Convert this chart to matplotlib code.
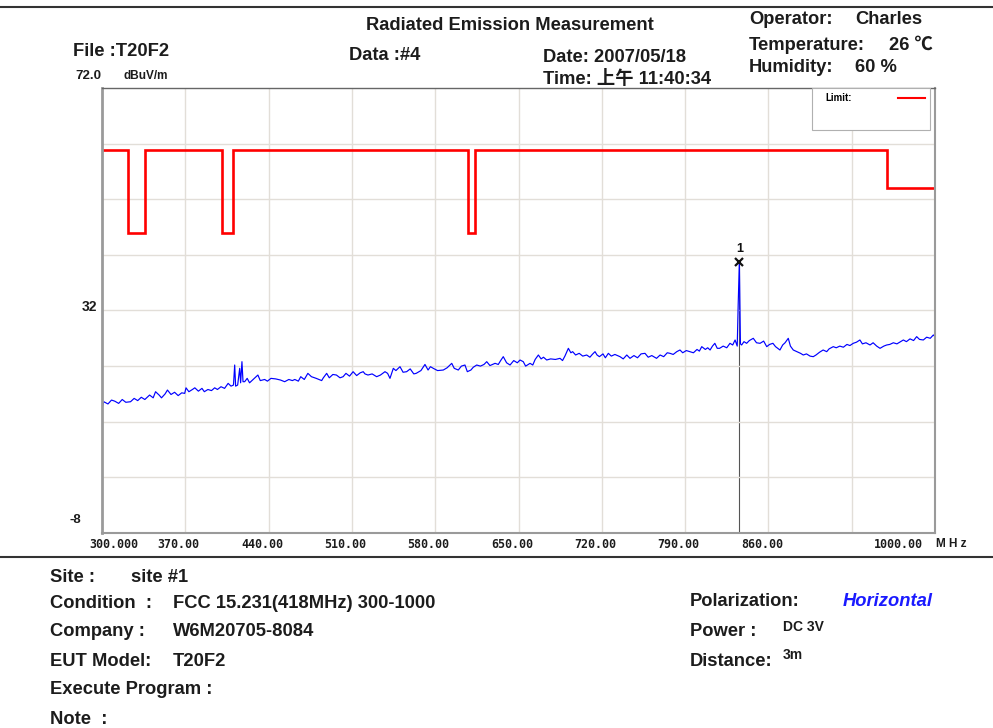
import matplotlib
matplotlib.use('Agg')
from matplotlib import pyplot as plt
from matplotlib import transforms
from matplotlib.lines import Line2D
from matplotlib.patches import Rectangle

plt.rcParams['font.family'] = ['Liberation Sans', 'Noto Sans CJK SC', 'DejaVu Sans']

freq_mhz = [300, 301.5, 305, 308, 310.7, 314, 317, 320, 324, 327, 330, 333, 336, 340, 343, 345,
            348, 350, 353, 355, 358, 361, 364, 367, 369.5, 370.6, 373, 376, 378, 381, 384, 386,
            389, 392, 394.7, 397, 400, 403, 406, 408.4, 410.5, 411.5, 412.3, 414, 415.7, 416.5,
            417.6, 418.5, 419.9, 422, 424, 427, 431, 433, 436.7, 439, 442, 446, 450, 453.5, 457,
            460, 462, 465, 467, 470, 473, 476, 480, 484.6, 486, 488.8, 491, 494, 497, 500, 502.6,
            505, 508, 511, 514, 517, 519.5, 521, 523.5, 527, 530.8, 534, 537.8, 540, 542, 544.8,
            547, 550.4, 553, 556, 559, 562, 564, 568, 571.4, 574, 576, 578.4, 582, 586.8, 590,
            593.9, 596, 599.4, 602, 605, 607, 610, 612, 614.9, 618, 621, 623.3, 626, 630.3, 633,
            635, 637.2, 640, 642.9, 646, 649, 651.3, 654, 656, 659.7, 662, 664, 666.7, 669, 671,
            673.7, 677, 681, 684.9, 687, 689, 691.9, 694, 695.5, 698, 701, 704, 707.3, 710, 712,
            714.3, 716, 718, 721, 723, 725.5, 728, 731, 735.3, 738, 741, 743.7, 747, 750, 753,
            756.3, 759, 762, 766, 769, 772, 775, 777.3, 780, 783, 785.7, 788, 791, 794, 797, 800,
            802, 804, 807, 809, 811, 813, 815, 817, 819, 822, 825, 827.7, 830, 832, 833.8, 834.6,
            835.6, 836.5, 837.5, 839.5, 841.7, 844, 847.3, 850, 853, 856, 858.6, 861, 863.8, 866,
            869.7, 872, 874, 876.7, 878.5, 880.9, 884, 887, 889.3, 892, 895, 897.7, 900, 903, 906,
            909, 911, 914.5, 917, 920, 923, 926, 928.5, 931.3, 934, 936.9, 939, 942, 945.4, 948,
            951, 953.8, 957, 959.4, 962, 965, 968, 971, 973.4, 976, 979, 982, 984.6, 987, 990.2,
            993, 996, 998.6, 1000]
level_dbuv = [14.4, 15.6, 15.2, 15.9, 15.7, 15.3, 16.0, 15.5, 15.6, 16.2, 15.8, 16.4, 16.0, 16.8, 16.3, 17.4,
              16.8, 16.3, 17.0, 17.7, 16.9, 17.3, 16.7, 17.2, 17.1, 18.1, 17.4, 17.8, 18.1, 17.5, 18.0, 17.4,
              17.8, 17.6, 18.1, 17.8, 18.3, 18.0, 18.9, 18.4, 18.6, 22.2, 18.4, 18.6, 21.6, 19.0,
              22.8, 19.2, 19.2, 19.8, 19.0, 19.6, 20.4, 19.4, 19.6, 19.3, 19.8, 19.7, 19.5, 19.2, 19.6,
              19.4, 19.6, 19.3, 20.1, 19.6, 20.7, 20.1, 19.8, 19.4, 19.9, 20.7, 19.9, 20.5, 20.4, 19.9, 20.1,
              20.7, 20.2, 21.0, 20.3, 20.8, 21.0, 20.6, 20.4, 20.6, 20.1, 20.4, 21.0, 20.7, 19.8, 21.6,
              21.2, 21.9, 20.9, 21.0, 21.5, 20.6, 20.7, 21.2, 22.3, 21.3, 21.9, 21.6, 21.2, 21.3, 21.7,
              22.5, 21.6, 21.3, 22.0, 22.2, 21.0, 21.3, 21.8, 22.2, 22.0, 22.3, 22.8, 22.1, 22.5, 22.3,
              23.0, 23.7, 22.6, 22.2, 23.0, 22.6, 23.1, 22.8, 22.0, 22.5, 22.2, 23.2, 24.0, 23.3, 23.6,
              23.1, 23.3, 23.2, 23.4, 23.0, 23.8, 25.2, 24.4, 24.6, 24.0, 24.3, 23.8, 24.0, 23.6, 24.1,
              24.6, 24.0, 23.7, 24.2, 23.5, 24.3, 23.8, 24.1, 23.7, 23.3, 24.0, 23.4, 23.9, 23.5, 24.2,
              24.3, 23.6, 23.9, 23.4, 24.0, 23.7, 24.4, 24.3, 24.1, 24.6, 24.9, 24.4, 24.8, 24.6, 24.4, 25.0,
              24.7, 25.5, 25.0, 25.3, 24.9, 25.6, 26.1, 25.2, 25.2, 25.6, 25.3, 26.1, 25.8, 26.7, 25.6, 33.0,
              40.8, 26.0, 25.8, 26.4, 26.1, 26.6, 27.0, 26.2, 26.1, 26.5, 25.5, 25.9, 26.1, 25.5,
              24.9, 25.8, 26.2, 27.0, 25.6, 24.9, 24.6, 24.3, 24.0, 24.2, 23.8, 23.7, 24.0, 24.5, 24.9,
              24.6, 25.1, 25.5, 25.3, 25.6, 25.4, 25.9, 25.7, 26.1, 26.3, 26.7, 26.0, 26.2, 25.8, 26.2,
              25.6, 25.2, 25.6, 25.8, 25.9, 26.2, 26.0, 26.4, 26.7, 26.4, 26.9, 26.6, 27.3, 26.8, 26.7,
              27.2, 27.0, 27.6, 27.3]

### Limit line ###
limit_level = 60.8
restricted_bands = [(322, 336), (400.5, 409.8), (607.6, 613.5)]
restricted_level = 46.0
upper_band_start = 960
upper_band_level = 54.0

### Marker 1 ###
peak_freq = 835.6
peak_level = 40.8

### Axis ###
x_grid = [370, 440, 510, 580, 650, 720, 790, 860, 930]
x_label_pos = [300, 370, 440, 510, 580, 650, 720, 790, 860, 1000]
x_label_text = ['300.000', '370.00', '440.00', '510.00', '580.00', '650.00',
                '720.00', '790.00', '860.00', '1000.00']
y_grid = [2, 12, 22, 32, 42, 52, 62]

W, H = 993, 728
FS = 13.2
fig = plt.figure(figsize=(W / 100, H / 100), dpi=100)
ax = fig.add_axes([102 / W, 1 - 533 / H, 833 / W, 445 / H])


def ftext(x, y, s, **kw):
    kw.setdefault('color', '#1c1c1c')
    kw.setdefault('fontweight', 'bold')
    kw.setdefault('fontsize', FS)
    fig.text(x / W, 1 - y / H, s, va='center', **kw)


# limit step line built from the band list
lim_x = [300]
lim_y = [limit_level]
for lo, hi in restricted_bands:
    lim_x += [lo, lo, hi, hi]
    lim_y += [limit_level, restricted_level, restricted_level, limit_level]
lim_x += [upper_band_start, upper_band_start, 1000]
lim_y += [limit_level, upper_band_level, upper_band_level]

ax.plot(freq_mhz, level_dbuv, color='#0000ff', lw=0.85)
ax.plot(lim_x, lim_y, color='#ff0000', lw=1.9, solid_joinstyle='miter')

ax.plot([peak_freq, peak_freq], [-8, peak_level], color='#555555', lw=0.8, zorder=1)
ax.plot(peak_freq, peak_level, marker='x', color='#111111', ms=6, mew=1.6)
ax.annotate('1', (peak_freq, peak_level), xytext=(0, 9), textcoords='offset points',
            ha='center', va='center', fontsize=9, fontweight='bold', color='#111111')

ax.set_xlim(300, 1000)
ax.set_ylim(-8, 72)
ax.set_xticks(x_grid)
ax.set_yticks(y_grid)
ax.grid(True, color='#e2ded8', lw=1)
ax.tick_params(length=0, labelbottom=False, labelleft=False)
for side in ['left', 'bottom', 'right']:
    ax.spines[side].set_color('#9a9a9a')
ax.spines['left'].set_linewidth(2)
ax.spines['bottom'].set_linewidth(1.5)
ax.spines['right'].set_linewidth(1.5)
ax.spines['top'].set_color('#666666')
ax.spines['top'].set_linewidth(1)

# legend box
ax.add_patch(Rectangle((0.852, 0.906), 0.142, 0.094, transform=ax.transAxes,
                       facecolor='white', edgecolor='#b0b0b0', lw=0.8, zorder=5))
ax.text(0.868, 0.978, 'Limit:', transform=ax.transAxes, fontsize=7, fontweight='bold',
        va='center', zorder=6)
ax.plot([0.955, 0.988], [0.978, 0.978], transform=ax.transAxes, color='#ff0000', lw=1.5, zorder=6)

# x tick labels
tr = transforms.blended_transform_factory(ax.transData, fig.transFigure)
for pos, txt in zip(x_label_pos, x_label_text):
    if pos == 300:
        x, ha = 289, 'left'
    elif pos == 1000:
        x, ha = 990, 'right'
    else:
        x, ha = pos - 5.5, 'center'
    ax.text(x, 1 - 544 / H, txt, transform=tr, ha=ha, va='center', fontsize=8.4,
            family='DejaVu Sans Mono', fontweight='bold', color='#1c1c1c')
ftext(936, 544, 'M H z', fontsize=8.5)

# y labels
ftext(97, 307, '32', fontsize=10, ha='right')
ftext(70, 520, '-8', fontsize=9.5, ha='left')
ftext(75, 76, '72.0', fontsize=9.5)
ftext(123, 76, 'dBuV/m', fontsize=8.5)

# rules
fig.add_artist(Line2D([0, 1], [1 - 7 / H, 1 - 7 / H], color='#333333', lw=1.5))
fig.add_artist(Line2D([0, 1], [1 - 557 / H, 1 - 557 / H], color='#333333', lw=1.5))

# header
ftext(510, 26, 'Radiated Emission Measurement', ha='center')
ftext(73, 52, 'File :T20F2')
ftext(349, 55, 'Data :#4')
ftext(543, 57, 'Date: 2007/05/18')
ftext(543, 79, 'Time: 上午 11:40:34')
ftext(749, 20, 'Operator:')
ftext(855, 20, 'Charles')
ftext(749, 45, 'Temperature:')
ftext(889, 45, '26 ℃')
ftext(749, 68, 'Humidity:')
ftext(855, 68, '60 %')

# footer
ftext(50, 577, 'Site :')
ftext(131, 577, 'site #1')
ftext(50, 603, 'Condition  :')
ftext(173, 603, 'FCC 15.231(418MHz) 300-1000')
ftext(50, 632, 'Company :')
ftext(173, 632, 'W6M20705-8084')
ftext(50, 661, 'EUT Model:')
ftext(173, 661, 'T20F2')
ftext(50, 690, 'Execute Program :')
ftext(50, 719, 'Note  :')
ftext(690, 602, 'Polarization:')
ftext(843, 602, 'Horizontal', style='italic', color='#1a1aff')
ftext(690, 632, 'Power :')
ftext(783, 627, 'DC 3V', fontsize=10)
ftext(690, 661, 'Distance:')
ftext(783, 655, '3m', fontsize=10)

fig.savefig('out.png', dpi=100)
